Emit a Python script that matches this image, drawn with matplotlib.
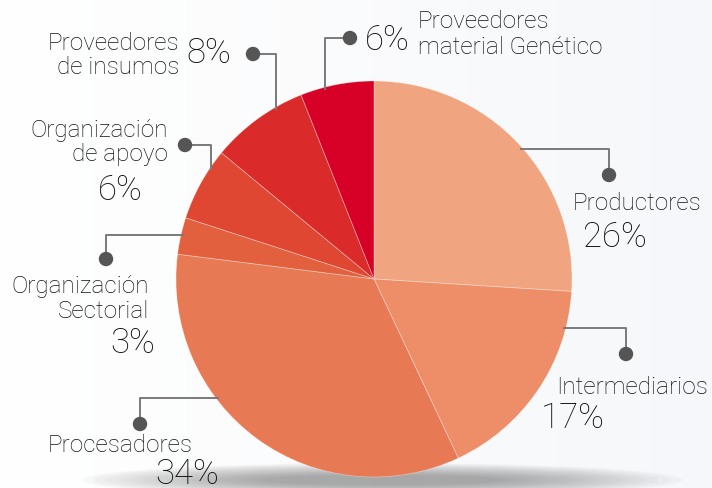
import numpy as np
import matplotlib
matplotlib.use("Agg")
import matplotlib.pyplot as plt
from matplotlib.patches import Ellipse, Circle

# ---- data ----
categories = ["Productores", "Intermediarios", "Procesadores", "Organización\nSectorial",
              "Organización\nde apoyo", "Proveedores\nde insumos", "Proveedores\nmaterial Genético"]
values = [26, 17, 34, 3, 6, 8, 6]
colors = ["#F0A580", "#ED8E68", "#E87955", "#E3603F", "#DF4733", "#DA2A29", "#D70026"]

W, H = 712, 488
fig = plt.figure(figsize=(W / 100, H / 100), dpi=100)
ax = fig.add_axes([0, 0, 1, 1])

# background subtle gradient
grad = np.linspace(0, 1, 256)[None, :]
bg = np.ones((1, 256, 3))
bg[..., 0] = 1 - 0.035 * grad
bg[..., 1] = 1 - 0.03 * grad
bg[..., 2] = 1 - 0.02 * grad
ax.imshow(bg, extent=[0, W, 0, H], aspect="auto", zorder=0)

cx, cy, r = 374, H - 279, 198

# shadow under the pie
for i in range(16):
    w = 600 - i * 24
    h = 34 - i * 1.6
    ax.add_patch(Ellipse((cx + 8, H - 480), w, h, color="#4a4a4a", alpha=0.035, lw=0, zorder=1))

wedges, _ = ax.pie(values, colors=colors, startangle=90, counterclock=False,
                   center=(cx, cy), radius=r, frame=True,
                   wedgeprops=dict(edgecolor=(1, 1, 1, 0.35), linewidth=0.6, zorder=2))

LINE = "#7a7a7a"
DOT = "#555555"
TXT = "#111111"
fam = ["Roboto", "DejaVu Sans"]


def edge_x(y_px, side):
    y = H - y_px
    return cx + side * np.sqrt(r ** 2 - (y - cy) ** 2)


def edge_y(x_px):
    return cy + np.sqrt(r ** 2 - (x_px - cx) ** 2)


def callout_h(y_line, x_elbow, y_dot, side):
    """horizontal from pie edge, then vertical to dot"""
    x0 = edge_x(y_line, side) - side * 3
    yl = H - y_line
    ax.plot([x0, x_elbow, x_elbow], [yl, yl, H - y_dot], color=LINE, lw=1.4, zorder=3,
            solid_capstyle="butt")
    ax.add_patch(Circle((x_elbow, H - y_dot), 6.5, color=DOT, zorder=4))


def callout_v(x_line, y_elbow, x_dot):
    """vertical from pie edge, then horizontal to dot"""
    y0 = edge_y(x_line) - 3
    ye = H - y_elbow
    ax.plot([x_line, x_line, x_dot], [y0, ye, ye], color=LINE, lw=1.4, zorder=3,
            solid_capstyle="butt")
    ax.add_patch(Circle((x_dot, ye), 6.5, color=DOT, zorder=4))


def txt(x, y_px, s, size, ha="left"):
    ax.text(x, H - y_px, s, fontsize=size, ha=ha, va="center", color=TXT,
            family=fam, fontweight="light", zorder=5)


LS = 17.5   # label size
PS = 25     # percent size

# Productores
callout_h(149, 609, 175, +1)
txt(637, 203, categories[0], LS, "center")
txt(615, 237, f"{values[0]}%", PS, "center")

# Intermediarios
callout_h(328, 626, 354, +1)
txt(632, 388, categories[1], LS, "center")
txt(573, 418, f"{values[1]}%", PS, "center")

# Procesadores
callout_h(398, 140, 424, -1)
txt(120, 445, categories[2], LS, "center")
txt(187, 474, f"{values[2]}%", PS, "center")

# Organización Sectorial
callout_h(235, 106, 259, -1)
lab = categories[3].split("\n")
txt(149, 287, lab[0], LS, "right")
txt(149, 311, lab[1], LS, "right")
txt(155, 343, f"{values[3]}%", PS, "right")

# Organización de apoyo
callout_v(211, 145, 185)
lab = categories[4].split("\n")
txt(168, 131, lab[0], LS, "right")
txt(168, 155, lab[1], LS, "right")
txt(120, 190, f"{values[4]}%", PS, "center")

# Proveedores de insumos
callout_v(276, 54, 253)
lab = categories[5].split("\n")
txt(179, 43, lab[0], LS, "right")
txt(179, 67, lab[1], LS, "right")
txt(209, 53, f"{values[5]}%", PS, "center")

# Proveedores material Genético
callout_v(325, 38, 350)
lab = categories[6].split("\n")
txt(418, 22, lab[0], LS, "left")
txt(418, 48, lab[1], LS, "left")
txt(387, 40, f"{values[6]}%", PS, "center")

ax.set_xlim(0, W)
ax.set_ylim(0, H)
ax.set_aspect("auto")
ax.axis("off")
fig.savefig("out.png", dpi=100)
